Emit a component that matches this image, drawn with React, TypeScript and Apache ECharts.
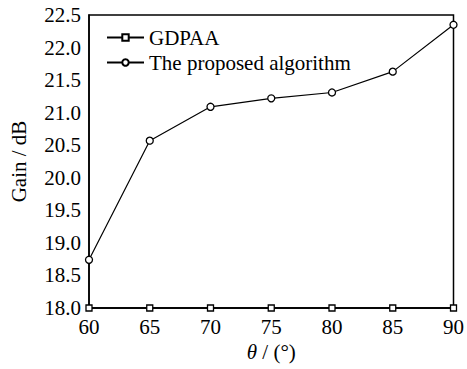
import React, { useEffect, useRef } from "react";
import * as echarts from "echarts";

const xCategories = [60, 65, 70, 75, 80, 85, 90];
const gdpaa = [18.0, 18.0, 18.0, 18.0, 18.0, 18.0, 18.0];
const proposed = [18.74, 20.57, 21.09, 21.22, 21.31, 21.63, 22.35];

export default function App() {
  const ref = useRef<HTMLDivElement>(null);
  useEffect(() => {
    const chart = echarts.init(ref.current!, undefined, { renderer: "svg" });
    const font = "Liberation Serif";
    const fs = 21;
    chart.setOption({
      animation: false,
      textStyle: { fontFamily: font, color: "#000" },
      grid: {
        left: 85,
        right: 10,
        top: 15,
        bottom: 61,
        show: true,
        borderColor: "#000",
        borderWidth: 1.5,
      },
      legend: {
        orient: "vertical",
        left: 101,
        top: 22,
        itemWidth: 37,
        itemHeight: 8,
        itemGap: 4,
        textStyle: { fontFamily: font, fontSize: fs, color: "#000" },
        data: ["GDPAA", "The proposed algorithm"],
      },
      xAxis: {
        type: "value",
        min: 60,
        max: 90,
        interval: 5,
        axisLine: { show: true, onZero: false, lineStyle: { color: "#000", width: 1.5 } },
        axisTick: { show: false },
        splitLine: { show: false },
        axisLabel: { fontFamily: font, fontSize: fs, color: "#000", margin: 8 },
        name: "{i|θ} / (°)",
        nameLocation: "middle",
        nameGap: 33,
        nameTextStyle: {
          fontFamily: font,
          fontSize: fs,
          color: "#000",
          rich: { i: { fontFamily: font, fontSize: fs, fontStyle: "italic", color: "#000" } },
        },
      },
      yAxis: {
        type: "value",
        min: 18,
        max: 22.5,
        interval: 0.5,
        axisLine: { show: true, lineStyle: { color: "#000", width: 1.5 } },
        axisTick: { show: false },
        splitLine: { show: false },
        axisLabel: {
          fontFamily: font,
          fontSize: fs,
          color: "#000",
          margin: 8,
          formatter: (v: number) => v.toFixed(1),
        },
        name: "Gain / dB",
        nameLocation: "middle",
        nameGap: 60,
        nameRotate: 90,
        nameTextStyle: { fontFamily: font, fontSize: fs, color: "#000" },
      },
      series: [
        {
          name: "GDPAA",
          type: "line",
          data: xCategories.map((x, i) => [x, gdpaa[i]]),
          symbol: "rect",
          symbolSize: 6,
          showAllSymbol: true,
          clip: false,
          lineStyle: { color: "#000", width: 1.2 },
          itemStyle: { color: "#fff", borderColor: "#000", borderWidth: 1.3 },
          z: 3,
        },
        {
          name: "The proposed algorithm",
          type: "line",
          data: xCategories.map((x, i) => [x, proposed[i]]),
          symbol: "circle",
          symbolSize: 7,
          showAllSymbol: true,
          clip: false,
          lineStyle: { color: "#000", width: 1.2 },
          itemStyle: { color: "#fff", borderColor: "#000", borderWidth: 1.3 },
          z: 3,
        },
      ],
    });
    return () => chart.dispose();
  }, []);
  return (
    <div
      ref={ref}
      style={{ position: "absolute", left: 0, top: 0, width: 467, height: 369 }}
    />
  );
}
